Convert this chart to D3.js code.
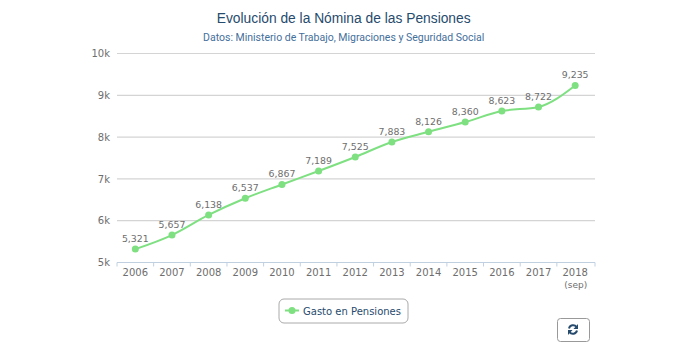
<!DOCTYPE html>
<html>
<head>
<meta charset="utf-8">
<script src="https://cdn.jsdelivr.net/npm/d3@7"></script>
<style>
  html, body { margin: 0; padding: 0; background: #fff; }
  svg { display: block; }
  .label { font-family: "DejaVu Sans", sans-serif; font-size: 9.4px; fill: #6e6e6e; }
  .axis text { font-family: "DejaVu Sans", sans-serif; font-size: 10px; fill: #6e6e6e; }
  .axis path { display: none; }
</style>
</head>
<body>
<script>
const years = ['2006','2007','2008','2009','2010','2011','2012','2013','2014','2015','2016','2017','2018']
const gasto = [5321,5657,6138,6537,6867,7189,7525,7883,8126,8360,8623,8722,9235]
const yTicks = [5000,6000,7000,8000,9000,10000]
const serieName = 'Gasto en Pensiones'
const title = 'Evolución de la Nómina de las Pensiones'
const subtitle = 'Datos: Ministerio de Trabajo, Migraciones y Seguridad Social'

let width = 683, height = 350
let plotLeft = 117, plotRight = 593.5, gridRight = 595, plotTop = 53.5, plotBottom = 262.5

let scaleX = d3.scaleBand().range([plotLeft, plotRight]).domain(years)
let scaleY = d3.scaleLinear().range([plotBottom, plotTop]).domain([5000, 10000])

let svg = d3.select('body').append('svg').attr('width', width).attr('height', height)

svg.append('text').attr('x', 343.7).attr('y', 23).attr('text-anchor', 'middle')
  .attr('font-family', '"Liberation Sans", sans-serif').attr('font-size', 13.8).attr('fill', '#274b6d')
  .text(title)
svg.append('text').attr('x', 343.7).attr('y', 41).attr('text-anchor', 'middle')
  .attr('font-family', 'Roboto, sans-serif').attr('font-size', 10.5).attr('fill', '#456f9b')
  .text(subtitle)

// horizontal grid
svg.append('g').selectAll('line')
  .data(yTicks.slice(1))
  .enter().append('line')
  .attr('x1', plotLeft).attr('x2', gridRight)
  .attr('y1', d => scaleY(d)).attr('y2', d => scaleY(d))
  .attr('stroke', '#d4d4d4').attr('stroke-width', 1.2)

let yAxis = svg.append('g').attr('class', 'axis')
  .attr('transform', 'translate(' + plotLeft + ',0)')
  .call(d3.axisLeft(scaleY).tickValues(yTicks).tickSize(0).tickPadding(7).tickFormat(d => d / 1000 + 'k'))

let xAxis = svg.append('g').attr('class', 'axis')
  .attr('transform', 'translate(0,' + plotBottom + ')')
  .call(d3.axisBottom(scaleX).tickSize(0).tickPadding(6))

// baseline and the ticks between the categories
svg.append('line').attr('x1', plotLeft).attr('x2', gridRight).attr('y1', plotBottom).attr('y2', plotBottom)
  .attr('stroke', '#c0d0e0')
svg.append('g').selectAll('line')
  .data(years.concat(['end']))
  .enter().append('line')
  .attr('x1', (d, i) => i < years.length ? scaleX(d) : gridRight)
  .attr('x2', (d, i) => i < years.length ? scaleX(d) : gridRight)
  .attr('y1', plotBottom).attr('y2', plotBottom + 4)
  .attr('stroke', '#c0d0e0')

svg.append('text').attr('class', 'label')
  .attr('x', scaleX('2018') + scaleX.bandwidth() / 2 + 0.5).attr('y', 287.5)
  .attr('text-anchor', 'middle').style('font-size', '9px')
  .text('(sep)')

let line = d3.line()
  .x((d, i) => scaleX(years[i]) + scaleX.bandwidth() / 2)
  .y(d => scaleY(d))
  .curve(d3.curveMonotoneX)

svg.append('path').datum(gasto)
  .attr('d', line)
  .attr('fill', 'none').attr('stroke', '#7ee081').attr('stroke-width', 2)

svg.append('g').selectAll('circle')
  .data(gasto)
  .enter().append('circle')
  .attr('cx', (d, i) => scaleX(years[i]) + scaleX.bandwidth() / 2)
  .attr('cy', d => scaleY(d))
  .attr('r', 3.5)
  .attr('fill', '#7ee081')

svg.append('g').selectAll('text')
  .data(gasto)
  .enter().append('text')
  .attr('class', 'label')
  .attr('x', (d, i) => scaleX(years[i]) + scaleX.bandwidth() / 2)
  .attr('y', d => scaleY(d) - 7)
  .attr('text-anchor', 'middle')
  .text(d => d3.format(',')(d))

// legend
let legend = svg.append('g')
legend.append('rect').attr('x', 279).attr('y', 299).attr('width', 129).attr('height', 24).attr('rx', 5)
  .attr('fill', '#fff').attr('stroke', '#aaa')
legend.append('line').attr('x1', 285).attr('x2', 299).attr('y1', 310.5).attr('y2', 310.5)
  .attr('stroke', '#7ee081').attr('stroke-width', 2)
legend.append('circle').attr('cx', 292).attr('cy', 310.5).attr('r', 3.5).attr('fill', '#7ee081')
legend.append('text').attr('x', 303).attr('y', 314.5)
  .attr('font-family', '"DejaVu Sans", sans-serif').attr('font-size', 10).attr('fill', '#274b6d')
  .text(serieName)

// reset button
let btn = svg.append('g')
btn.append('rect').attr('x', 557.5).attr('y', 318.5).attr('width', 32).attr('height', 23).attr('rx', 3)
  .attr('fill', '#fff').attr('stroke', '#999')
let icon = btn.append('g').attr('transform', 'translate(573,329.5)')
  .attr('fill', 'none').attr('stroke', '#274b6d').attr('stroke-width', 2)
icon.append('path').attr('d', 'M-4,-1 A4.2,4.2 0 0 1 3.5,-2.5')
icon.append('path').attr('d', 'M4,1 A4.2,4.2 0 0 1 -3.5,2.5')
icon.append('path').attr('d', 'M5,-5.5 L5,-0.5 L0.5,-0.5 Z').attr('fill', '#274b6d').attr('stroke', 'none')
icon.append('path').attr('d', 'M-5,5.5 L-5,0.5 L-0.5,0.5 Z').attr('fill', '#274b6d').attr('stroke', 'none')
</script>
</body>
</html>
